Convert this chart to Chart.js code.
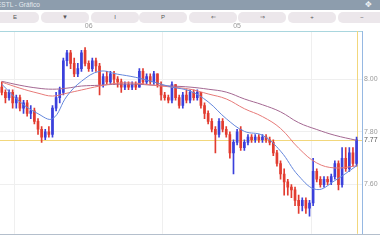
<!DOCTYPE html>
<html><head><meta charset="utf-8">
<script src="https://cdn.jsdelivr.net/npm/chart.js@4"></script>
<style>
html,body{margin:0;padding:0;width:380px;height:240px;overflow:hidden;background:#fff;font-family:"Liberation Sans",Arial,sans-serif;}
#hdr{position:absolute;left:0;top:0;width:380px;height:10px;background:#8d9dad;color:#e6ebf0;font-size:6.5px;line-height:10px;}
#hdr .t{position:absolute;left:-3px;top:0;white-space:nowrap;}
#hdr .i{position:absolute;left:365px;top:0;font-size:8px;color:#f2f5f8;}
.btn{position:absolute;top:12px;height:11px;width:48px;background:#ece7eb;border-radius:5px;font-size:6px;line-height:11px;text-align:center;color:#555;}
#wrap{position:absolute;left:0;top:22px;width:380px;height:218px;}
</style></head>
<body>
<div id="hdr"><span class="t">ESTL - Gráfico</span><span class="i">✥</span></div>
<div id="btns"></div>
<div id="wrap"><canvas id="c"></canvas></div>
<script>
// ---- data ----
const buttonLabels = ['E','▼','I','P','⇐','⇒','+','−'];
const dateTickIndex = [24, 65];
const dateTickText = ['06', '05'];
const slotCount = 100;
const opens  = [7.97,7.95,7.93,7.95,7.91,7.93,7.89,7.91,7.87,7.88, 7.84,7.81,7.78,7.80,7.79,7.89,7.93,7.95,8.07,8.10, 8.06,8.02,8.04,8.11,8.06,8.04,8.07,8.05,7.98,8.01, 7.99,8.02,8.00,7.99,7.97,7.98,7.97,7.98,7.97,8.03, 7.99,8.01,7.99,8.02,7.98,7.94,7.93,7.92,7.98,7.93, 7.90,7.94,7.92,7.95,7.93,7.95,7.90,7.87,7.84,7.81, 7.79,7.84,7.81,7.79,7.72,7.76,7.81,7.74,7.76,7.78, 7.77,7.78,7.77,7.78,7.77,7.76,7.72,7.68,7.64,7.61, 7.59,7.58,7.54,7.52,7.54,7.51,7.53,7.65,7.62,7.60, 7.62,7.61,7.63,7.68,7.60,7.70,7.66,7.72,7.68];
const closes = [7.95,7.93,7.95,7.91,7.93,7.89,7.91,7.87,7.88,7.84, 7.81,7.78,7.80,7.79,7.89,7.93,7.96,8.07,8.10,8.06, 8.02,8.04,8.10,8.06,8.04,8.07,8.05,7.98,8.01,7.99, 8.02,8.00,7.99,7.97,7.98,7.97,7.98,7.97,8.03,7.99, 8.01,7.99,8.02,7.98,7.94,7.93,7.92,7.98,7.93,7.90, 7.94,7.92,7.95,7.93,7.95,7.90,7.87,7.84,7.81,7.79, 7.84,7.81,7.79,7.72,7.76,7.80,7.74,7.76,7.78,7.77, 7.78,7.77,7.78,7.77,7.76,7.72,7.68,7.64,7.61,7.59, 7.58,7.54,7.52,7.54,7.51,7.53,7.65,7.62,7.60,7.62, 7.61,7.63,7.68,7.60,7.70,7.66,7.72,7.68,7.77];
const highs  = [7.99,7.96,7.96,7.96,7.94,7.94,7.92,7.92,7.90,7.89, 7.85,7.82,7.81,7.82,7.90,7.95,7.97,8.08,8.11,8.11, 8.08,8.06,8.11,8.12,8.07,8.08,8.08,8.06,8.02,8.03, 8.03,8.03,8.01,8.00,7.99,7.99,7.99,7.99,8.04,8.04, 8.02,8.02,8.03,8.02,7.99,7.95,7.94,7.99,7.98,7.94, 7.95,7.96,7.96,7.96,7.96,7.95,7.91,7.88,7.85,7.82, 7.85,7.85,7.82,7.80,7.77,7.81,7.82,7.77,7.79,7.79, 7.79,7.79,7.79,7.79,7.78,7.77,7.73,7.69,7.66,7.62, 7.60,7.59,7.56,7.55,7.55,7.54,7.70,7.66,7.63,7.63, 7.63,7.64,7.69,7.69,7.74,7.74,7.74,7.74,7.78];
const lows   = [7.94,7.91,7.92,7.89,7.89,7.88,7.87,7.86,7.85,7.83, 7.79,7.76,7.77,7.78,7.78,7.88,7.91,7.94,8.05,8.04, 8.01,8.01,8.03,8.05,8.03,8.03,8.03,7.94,7.97,7.98, 7.98,7.98,7.97,7.95,7.96,7.96,7.96,7.96,7.97,7.98, 7.98,7.98,7.98,7.97,7.92,7.92,7.91,7.91,7.92,7.89, 7.89,7.91,7.91,7.92,7.92,7.89,7.85,7.83,7.80,7.72, 7.78,7.80,7.78,7.70,7.64,7.75,7.73,7.73,7.75,7.76, 7.76,7.76,7.76,7.76,7.75,7.71,7.67,7.62,7.56,7.56, 7.55,7.52,7.49,7.50,7.49,7.48,7.52,7.61,7.59,7.59, 7.60,7.60,7.62,7.58,7.59,7.65,7.65,7.67,7.67];
const maIndex = [0,5,10,14,18,22,27,32,37,42,47,52,57,62,67,72,77,82,87,92,98];
const maFast  = [7.981,7.914,7.869,7.850,7.936,7.992,8.030,8.019,8.007,7.989,7.970,7.955,7.914,7.850,7.802,7.787,7.727,7.633,7.581,7.615,7.671];
const maMid   = [7.989,7.966,7.947,7.936,7.947,7.959,7.974,7.985,7.985,7.977,7.970,7.962,7.944,7.925,7.888,7.858,7.813,7.738,7.682,7.663,7.671];
const maSlow  = [7.992,7.977,7.966,7.962,7.966,7.974,7.977,7.981,7.981,7.977,7.974,7.970,7.962,7.951,7.925,7.903,7.876,7.835,7.809,7.787,7.768];
const yTicks = [8.00, 7.80, 7.60];
const yMin = 7.413, yMax = 8.183;

// ---- buttons ----
const btnLeft = [-9,41,91,139,189,238,288,338];
const btnBox = document.getElementById('btns');
buttonLabels.forEach((t,i)=>{const d=document.createElement('div');d.className='btn';d.style.left=btnLeft[i]+'px';d.textContent=t;btnBox.appendChild(d);});

// ---- chart ----
const UP='#3a40dc', DOWN='#e23c30';
const labels = Array.from({length:slotCount},(_,i)=>String(i));
const candleColors = opens.map((o,i)=> closes[i]>=o ? UP : DOWN);
const maPts = arr => maIndex.map((x,k)=>({x:String(x), y:arr[k]}));
Chart.defaults.font.family = '"Liberation Sans", Arial, sans-serif';

const overlay = {
  id:'overlay',
  beforeDatasetsDraw(chart){
    const {ctx, chartArea:a, scales:{x,y}} = chart;
    const last = closes.length-1;
    const py = Math.round(y.getPixelForValue(closes[last]))+0.5;
    const px = Math.round(x.getPixelForValue(last))+0.5;
    ctx.save();
    ctx.strokeStyle='#f2d77c'; ctx.lineWidth=1;
    ctx.beginPath(); ctx.moveTo(a.left,py); ctx.lineTo(a.right,py); ctx.stroke();
    ctx.beginPath(); ctx.moveTo(px,a.top); ctx.lineTo(px,a.bottom); ctx.stroke();
    ctx.restore();
  },
  afterDraw(chart){
    const {ctx, chartArea:a, scales:{y}} = chart;
    const last = closes.length-1;
    ctx.save();
    ctx.strokeStyle='#b4bfcc'; ctx.lineWidth=1;
    ctx.beginPath(); ctx.moveTo(0,Math.round(a.bottom)+0.5); ctx.lineTo(chart.width,Math.round(a.bottom)+0.5); ctx.stroke();
    ctx.fillStyle='#555'; ctx.font='7px "Liberation Sans", Arial, sans-serif';
    ctx.textBaseline='middle'; ctx.textAlign='left';
    ctx.fillText(closes[last].toFixed(2), a.right+2, y.getPixelForValue(closes[last]));
    ctx.restore();
  }
};

new Chart(document.getElementById('c'), {
  type:'bar',
  data:{
    labels,
    datasets:[
      {type:'line', data:maPts(maFast), borderColor:'#6487dc', borderWidth:1, pointRadius:0, tension:0.4, fill:false, order:0},
      {type:'line', data:maPts(maMid), borderColor:'#e77a78', borderWidth:1, pointRadius:0, tension:0.4, fill:false, order:0},
      {type:'line', data:maPts(maSlow), borderColor:'#a46892', borderWidth:1, pointRadius:0, tension:0.4, fill:false, order:0},
      {data:lows.map((l,i)=>[l,highs[i]]), backgroundColor:candleColors, barThickness:1, grouped:false, order:2},
      {data:opens.map((o,i)=>[o,closes[i]]), backgroundColor:candleColors, barThickness:2, minBarLength:1, grouped:false, order:1}
    ]
  },
  options:{
    responsive:true, maintainAspectRatio:false, animation:false,
    layout:{padding:{left:0,right:0,top:0,bottom:3}},
    plugins:{legend:{display:false}, tooltip:{enabled:false}},
    scales:{
      x:{position:'top', offset:true,
        grid:{offset:true, color:'#efefef', drawTicks:false},
        border:{color:'#a9d6de'},
        ticks:{autoSkip:false, maxRotation:0, minRotation:0, padding:1, color:'#9a9a9a', font:{size:7},
          callback:(v,i)=>{const k=dateTickIndex.indexOf(i); return k>=0?dateTickText[k]:null;}},
        afterFit:s=>{s.height=9;}
      },
      y:{position:'right', min:yMin, max:yMax,
        grid:{color:'#efefef', drawTicks:false},
        border:{color:'#96b8e2'},
        ticks:{padding:2, color:'#9a9a9a', font:{size:7}, callback:v=>Number(v).toFixed(2)},
        afterBuildTicks:s=>{s.ticks=yTicks.map(v=>({value:v}));},
        afterFit:s=>{s.width=18;}
      }
    }
  },
  plugins:[overlay]
});
</script>
</body></html>
